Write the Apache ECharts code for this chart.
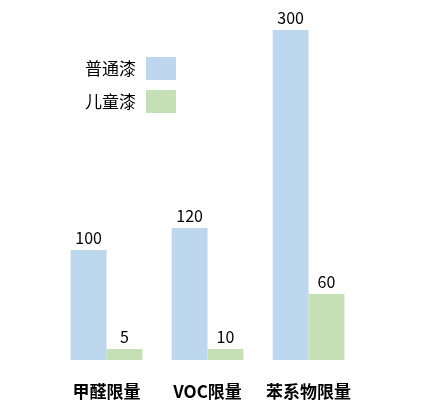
<!DOCTYPE html>
<html><head><meta charset="utf-8">
<script src="https://cdn.jsdelivr.net/npm/echarts@6/dist/echarts.min.js"></script>
<style>html,body{margin:0;padding:0;background:#fff}#c{width:432px;height:409px}</style>
</head><body><div id="c"></div>
<script>
const categories = ['甲醛限量', 'VOC限量', '苯系物限量'];
const seriesNames = ['普通漆', '儿童漆'];
const normalPaint = [100, 120, 300];
const kidsPaint = [5, 10, 60];

const chart = echarts.init(document.getElementById('c'));
const font = '"Noto Sans CJK SC", "Noto Sans", sans-serif';
chart.setOption({
  animation: false,
  grid: { left: 56, right: 73, top: 30, bottom: 49 },
  legend: {
    orient: 'vertical', left: 80, top: 52, align: 'right',
    itemWidth: 30, itemHeight: 23, itemGap: 10,
    icon: 'rect',
    textStyle: { fontFamily: font, fontSize: 17, color: '#000', padding: [0, 5, 0, 0] },
    data: seriesNames
  },
  xAxis: {
    type: 'category', data: categories,
    axisLine: { show: false }, axisTick: { show: false },
    axisLabel: { interval: 0, hideOverlap: false, margin: 23, fontFamily: font, fontSize: 17, fontWeight: 'bold', color: '#000' }
  },
  yAxis: { type: 'value', min: 0, max: 300, show: false, splitLine: { show: false } },
  series: [
    {
      name: seriesNames[0], type: 'bar', data: normalPaint,
      barGap: '0%', barCategoryGap: '29%',
      itemStyle: { color: '#BDD7EE' },
      label: { show: true, position: 'top', distance: 4, fontFamily: font, fontSize: 16, color: '#000' }
    },
    {
      name: seriesNames[1], type: 'bar', data: kidsPaint,
      barMinHeight: 11,
      itemStyle: { color: '#C5E0B4' },
      label: { show: true, position: 'top', distance: 4, fontFamily: font, fontSize: 16, color: '#000' }
    }
  ]
});
</script></body></html>
